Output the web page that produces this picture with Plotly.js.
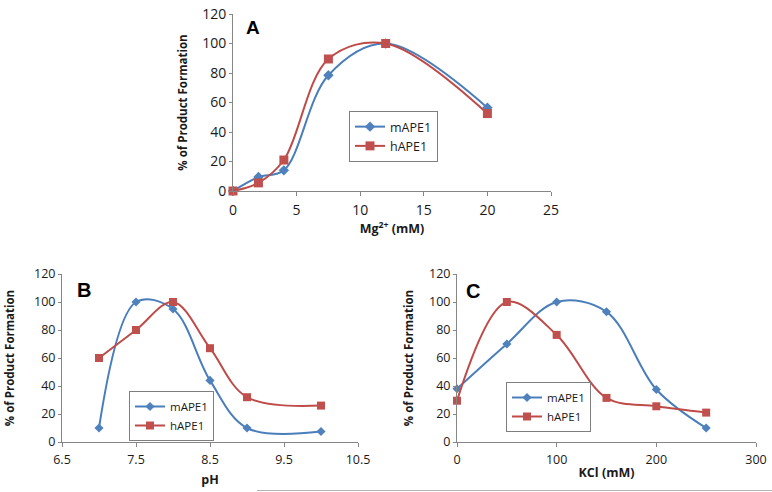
<!DOCTYPE html>
<html><head><meta charset="utf-8">
<script src="https://cdn.plot.ly/plotly-3.0.1.min.js"></script>
<style>html,body{margin:0;padding:0;background:#fff;} #chart{width:772px;height:492px;}</style>
</head><body><div id="chart"></div>
<script>
// Panel A: Mg2+ dependence
const mgX = [0, 2, 4, 7.5, 12, 20];
const mgMAPE1 = [0, 9.5, 14, 78.5, 100, 56.5];
const mgHAPE1 = [0, 5.5, 21, 89.5, 100, 52.5];
// Panel B: pH dependence
const phX = [7, 7.5, 8, 8.5, 9, 10];
const phMAPE1 = [10, 100, 95, 44, 10, 7.5];
const phHAPE1 = [60, 80, 100, 67, 32, 26];
// Panel C: KCl dependence
const kclX = [0, 50, 100, 150, 200, 250];
const kclMAPE1 = [38, 70, 100, 93, 37.5, 10];
const kclHAPE1 = [29.5, 100, 76.5, 31.5, 25.5, 21];

const seriesNames = ['mAPE1', 'hAPE1'];
const panelLabels = ['A', 'B', 'C'];
const xTitles = ['Mg<sup>2+</sup> (mM)', 'pH', 'KCl (mM)'];
const yTitle = '% of Product Formation';

const W = 772, H = 492;
const BLUE = '#4A7EBB', BLUE_M = '#4F81BD', RED = '#BE4B48', RED_M = '#C0504D';
const FONT = 'Open Sans, Liberation Sans, sans-serif';

function mk(x, y, i, ax, leg, big) {
  const blue = i === 0;
  return {
    x: x, y: y, name: seriesNames[i], type: 'scatter', mode: 'lines+markers',
    xaxis: 'x' + ax, yaxis: 'y' + ax, legend: leg, cliponaxis: false,
    line: {shape: 'spline', smoothing: 1, color: blue ? BLUE : RED, width: 2},
    marker: {symbol: blue ? 'diamond' : 'square', size: blue ? (big ? 8 : 7) : (big ? 9 : 8),
             color: blue ? BLUE_M : RED_M, line: {width: 0}}
  };
}

const data = [
  mk(mgX, mgMAPE1, 0, '', 'legend', true),
  mk(mgX, mgHAPE1, 1, '', 'legend', true),
  mk(phX, phMAPE1, 0, '2', 'legend2', false),
  mk(phX, phHAPE1, 1, '2', 'legend2', false),
  mk(kclX, kclMAPE1, 0, '3', 'legend3', false),
  mk(kclX, kclHAPE1, 1, '3', 'legend3', false)
];

const AXC = '#868686';
function xax(dom, range, dtick, tick0, title, fs, standoff, anchor) {
  return {domain: dom, range: range, dtick: dtick, tick0: tick0, anchor: anchor,
    showgrid: false, zeroline: false, showline: true, linecolor: AXC, linewidth: 1,
    ticks: 'outside', ticklen: 4, tickcolor: AXC, tickwidth: 1,
    tickfont: {family: FONT, size: fs, color: '#1a1a1a'}, ticklabelstandoff: 2,
    automargin: false, fixedrange: true,
    title: {text: title, standoff: standoff, font: {family: FONT, size: 12.5, color: '#1a1a1a', weight: 'bold'}}};
}
function yax(dom, fs, standoff, anchor) {
  return {domain: dom, range: [0, 120], dtick: 20, anchor: anchor,
    showgrid: false, zeroline: false, showline: true, linecolor: AXC, linewidth: 1,
    ticks: 'outside', ticklen: 3, tickcolor: AXC, tickwidth: 1,
    tickfont: {family: FONT, size: fs, color: '#1a1a1a'}, ticklabelstandoff: 0,
    automargin: false, fixedrange: true,
    title: {text: yTitle, standoff: standoff, font: {family: FONT, size: 11.5, color: '#1a1a1a', weight: 'bold'}}};
}

function legend(xpx, ypx, fs) {
  return {x: xpx / W, y: 1 - ypx / H, xanchor: 'left', yanchor: 'top',
    bgcolor: '#fff', bordercolor: '#7f7f7f', borderwidth: 1,
    font: {family: FONT, size: fs, color: '#1a1a1a'}, tracegroupgap: 0, itemwidth: 30};
}

const letterPos = [[253, 27, 19], [84, 290, 20], [473, 291, 20]];

const layout = {
  width: W, height: H, margin: {l: 0, r: 0, t: 0, b: 0},
  paper_bgcolor: '#fff', plot_bgcolor: 'rgba(0,0,0,0)', showlegend: true,
  font: {family: FONT},
  xaxis: xax([233 / W, 551 / W], [0, 25], 5, 0, xTitles[0], 14, 3, 'y'),
  yaxis: yax([1 - 191 / H, 1 - 14 / H], 14, 12, 'x'),
  xaxis2: xax([62 / W, 358 / W], [6.5, 10.5], 1, 6.5, xTitles[1], 12.5, 8, 'y2'),
  yaxis2: yax([1 - 442 / H, 1 - 274 / H], 12.5, 17, 'x2'),
  xaxis3: xax([457 / W, 756 / W], [0, 300], 100, 0, xTitles[2], 12.5, 1, 'y3'),
  yaxis3: yax([1 - 442 / H, 1 - 274 / H], 12.5, 13, 'x3'),
  legend: legend(349, 111, 12.5),
  legend2: legend(129, 391, 11.5),
  legend3: legend(506, 382, 11.5),
  annotations: panelLabels.map((t, i) => ({
    text: '<b>' + t + '</b>', xref: 'paper', yref: 'paper',
    x: letterPos[i][0] / W, y: 1 - letterPos[i][1] / H, xanchor: 'center', yanchor: 'middle',
    showarrow: false, font: {family: 'Liberation Sans, Arial, sans-serif', size: letterPos[i][2], color: '#000'}
  })),
  shapes: [{type: 'line', xref: 'paper', yref: 'paper', x0: 257 / W, x1: 1, y0: 1 - 490.5 / H, y1: 1 - 490.5 / H,
    line: {color: '#b4b4b4', width: 1}}]
};

Plotly.newPlot('chart', data, layout, {displayModeBar: false, staticPlot: true});
</script>
</body></html>
